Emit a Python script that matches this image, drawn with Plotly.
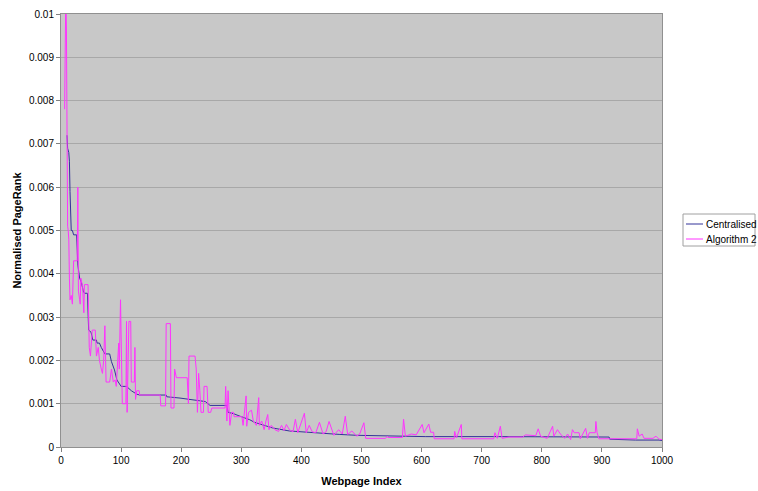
import plotly.graph_objects as go

# Centralised (index, value)
cent_x = [10, 11, 13, 14, 15, 16, 17, 19, 21, 26, 28, 31, 34, 37, 39, 44, 46, 50, 53, 59, 60, 64, 67, 73, 81,
          84, 89, 93, 97, 100, 109, 117, 126, 131, 175, 176, 198, 217, 228, 240, 248, 276, 278, 287, 298, 314,
          322, 352, 380, 409, 436, 464, 492, 541, 607, 728, 912, 913, 956, 995, 1000]
cent_y = [0.0072, 0.0069, 0.0068, 0.0066, 0.0059, 0.0055, 0.0050, 0.0050, 0.0049, 0.0049, 0.0042, 0.0039, 0.0038,
          0.0036, 0.00355, 0.00355, 0.0027, 0.00265, 0.00247, 0.00247, 0.0024, 0.0024, 0.0023, 0.00215, 0.00215,
          0.00197, 0.00178, 0.00155, 0.00145, 0.0014, 0.0014, 0.0013, 0.00122, 0.0012, 0.0012, 0.00116, 0.00113,
          0.0011, 0.00107, 0.00105, 0.00096, 0.00096, 0.0008, 0.00077, 0.00071, 0.00063, 0.00057, 0.00044,
          0.00037, 0.00034, 0.00031, 0.00029, 0.00027, 0.00026, 0.00024, 0.00024, 0.00023, 0.00018, 0.00016,
          0.00016, 0.00015]

# Algorithm 2 (index, value)
alg_x = [6, 8, 9, 10, 11, 12, 13, 14, 15, 17, 19, 21, 27, 28, 29, 31, 32, 33, 36, 38, 39, 45, 47, 49, 52, 57, 59,
         62, 64, 67, 69, 71, 73, 75, 81, 84, 87, 90, 92, 96, 97, 99, 100, 102, 108, 109, 110, 112, 113, 116, 117,
         122, 123, 124, 126, 130, 131, 165, 166, 174, 175, 182, 183, 188, 189, 192, 210, 212, 213, 223, 225, 227,
         229, 231, 233, 237, 238, 243, 245, 249, 251, 273, 274, 276, 278, 281, 284, 287, 288, 301, 303, 308, 309,
         312, 317, 320, 325, 329, 330, 334, 338, 341, 344, 346, 350, 356, 362, 367, 371, 375, 380, 386, 390, 394,
         399, 405, 408, 413, 418, 424, 430, 436, 441, 446, 454, 462, 468, 473, 477, 484, 492, 497, 504, 507, 540,
         543, 544, 568, 570, 573, 583, 591, 601, 604, 612, 615, 620, 621, 654, 655, 658, 666, 667, 720, 722, 726,
         731, 734, 745, 768, 773, 790, 794, 798, 809, 818, 820, 826, 831, 838, 843, 848, 851, 854, 862, 864, 873,
         876, 879, 889, 890, 892, 895, 958, 959, 962, 967, 970, 985, 990, 995, 1000]
alg_y = [0.0078, 0.0105, 0.0097, 0.0054, 0.0051, 0.0050, 0.0048, 0.0039, 0.0034, 0.0035, 0.0033, 0.0043, 0.0043,
         0.0060, 0.0036, 0.0034, 0.0033, 0.0039, 0.0037, 0.0031, 0.00375, 0.00375, 0.0023, 0.0021, 0.0027, 0.0027,
         0.0021, 0.0023, 0.0020, 0.0018, 0.0017, 0.0020, 0.0028, 0.0015, 0.0015, 0.0018, 0.0015, 0.00155, 0.0014,
         0.0024, 0.0018, 0.0034, 0.0023, 0.0010, 0.0010, 0.0029, 0.0008, 0.0021, 0.0029, 0.0029, 0.0015, 0.0015,
         0.0023, 0.0011, 0.0013, 0.0013, 0.0012, 0.0012, 0.00095, 0.00095, 0.00285, 0.00285, 0.0009, 0.0009,
         0.0018, 0.0016, 0.0016, 0.0010, 0.0021, 0.0021, 0.0018, 0.0008, 0.0017, 0.0013, 0.0008, 0.0008, 0.0014,
         0.0014, 0.0008, 0.0008, 0.0009, 0.0009, 0.0014, 0.0006, 0.0013, 0.0005, 0.0008, 0.0008, 0.0007, 0.0007,
         0.0005, 0.00118, 0.00048, 0.0008, 0.00085, 0.0006, 0.0005, 0.00114, 0.0005, 0.0006, 0.0004, 0.0006,
         0.00075, 0.0004, 0.0005, 0.0004, 0.00036, 0.0005, 0.00038, 0.00052, 0.0004, 0.00035, 0.00064, 0.00033,
         0.00055, 0.00078, 0.00033, 0.0005, 0.00035, 0.00033, 0.00057, 0.0003, 0.00035, 0.00059, 0.00027, 0.0004,
         0.0003, 0.00071, 0.00029, 0.00037, 0.00025, 0.0003, 0.00056, 0.0002, 0.0002, 0.00025, 0.00022, 0.00022,
         0.00064, 0.00025, 0.0003, 0.00028, 0.00052, 0.00033, 0.00053, 0.00034, 0.00034, 0.00019, 0.00019,
         0.00036, 0.00021, 0.00052, 0.00019, 0.00019, 0.00033, 0.0002, 0.00048, 0.0002, 0.00023, 0.00023,
         0.00028, 0.00026, 0.00042, 0.00025, 0.0002, 0.00048, 0.00025, 0.0004, 0.0003, 0.0002, 0.0003, 0.00017,
         0.0004, 0.00033, 0.00033, 0.00019, 0.00043, 0.0002, 0.00033, 0.00033, 0.00059, 0.00033, 0.00019,
         0.00019, 0.00042, 0.00025, 0.0003, 0.0002, 0.0002, 0.00025, 0.00018, 0.00017]

series_names = ["Centralised", "Algorithm 2"]
series_colors = ["#333399", "#FF33FF"]

y_ticks = [0, 0.001, 0.002, 0.003, 0.004, 0.005, 0.006, 0.007, 0.008, 0.009, 0.01]
y_labels = ["0", "0.001", "0.002", "0.003", "0.004", "0.005", "0.006", "0.007", "0.008", "0.009", "0.01"]
x_ticks = [0, 100, 200, 300, 400, 500, 600, 700, 800, 900, 1000]

W, H = 758, 491
ML, MR, MT, MB = 61, 96, 14, 44
PW, PH = W - ML - MR, H - MT - MB


def px_x(p):  # page pixel -> paper
    return (p - ML) / PW


def px_y(p):
    return (H - MB - p) / PH


fig = go.Figure()
fig.add_trace(go.Scatter(x=cent_x, y=cent_y, mode="lines", name=series_names[0],
                         line=dict(color=series_colors[0], width=1)))
fig.add_trace(go.Scatter(x=alg_x, y=alg_y, mode="lines", name=series_names[1],
                         line=dict(color=series_colors[1], width=1)))

# Excel-style legend box drawn with shapes and text
shapes = [dict(type="rect", xref="paper", yref="paper",
               x0=px_x(683), x1=px_x(755), y0=px_y(246), y1=px_y(214),
               line=dict(color="#A0A0A0", width=1), fillcolor="white", layer="above")]
annotations = []
for i, (nm, col) in enumerate(zip(series_names, series_colors)):
    yy = 224 + i * 15
    shapes.append(dict(type="line", xref="paper", yref="paper",
                       x0=px_x(686), x1=px_x(703), y0=px_y(yy), y1=px_y(yy),
                       line=dict(color=col, width=1), layer="above"))
    annotations.append(dict(text=nm, xref="paper", yref="paper", x=px_x(704), y=px_y(yy),
                            xanchor="left", yanchor="middle", showarrow=False,
                            font=dict(size=10, color="black")))

font = "Liberation Sans, Arial, sans-serif"
fig.update_layout(
    width=W, height=H,
    margin=dict(l=ML, r=MR, t=MT, b=MB, autoexpand=False),
    paper_bgcolor="white", plot_bgcolor="#C8C8C8",
    font=dict(family=font, size=10, color="black"),
    showlegend=False,
    shapes=shapes, annotations=annotations,
    xaxis=dict(range=[0, 1000], tickvals=x_ticks, ticks="outside", ticklen=4,
               tickcolor="#808080", showline=True, linecolor="#909090", mirror=True,
               showgrid=False, zeroline=False, automargin=False,
               title=dict(text="<b>Webpage Index</b>", font=dict(size=11), standoff=12)),
    yaxis=dict(range=[0, 0.01], tickvals=y_ticks, ticktext=y_labels, ticks="outside",
               ticklen=4, tickcolor="#808080", showline=True, linecolor="#909090", mirror=True,
               showgrid=True, gridcolor="#A8A8A8", gridwidth=1, zeroline=False, automargin=False,
               title=dict(text="<b>Normalised PageRank</b>", font=dict(size=11), standoff=5)),
)

fig.write_html("out.html", config={"displayModeBar": False},
               post_script="document.body.style.margin='0';document.body.style.overflow='hidden';")
